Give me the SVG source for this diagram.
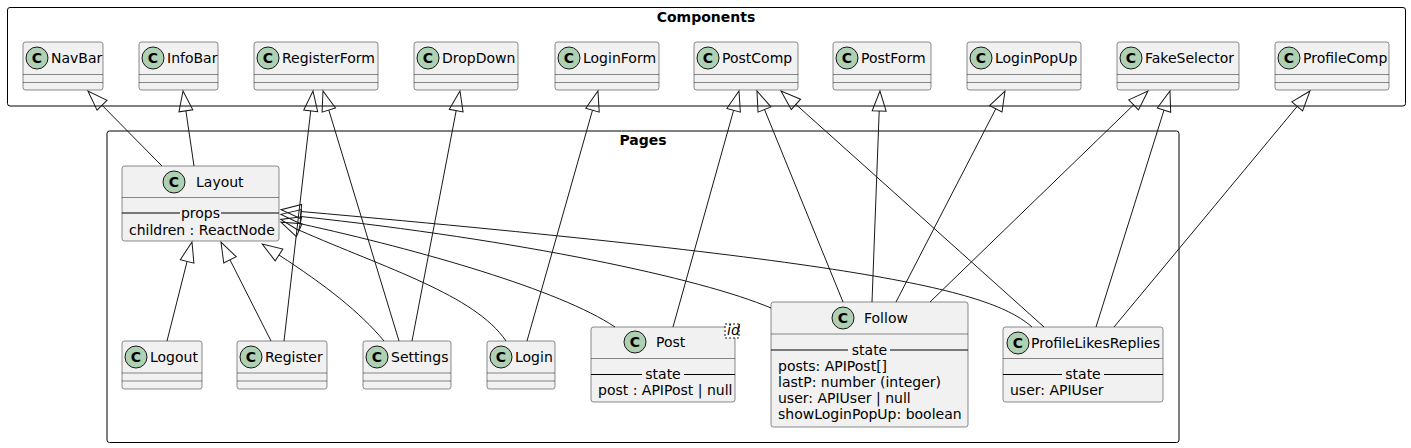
<svg xmlns="http://www.w3.org/2000/svg" width="1411" height="448" viewBox="0 0 1411 448">
<defs>
<style>
text{font-family:"DejaVu Sans","Liberation Sans",sans-serif;font-size:14px;fill:#000}
.title{font-weight:bold}
.box{fill:#F1F1F1;stroke:#181818;stroke-width:0.5}
.sec{stroke:#181818;stroke-width:0.5}
.sep{stroke:#000;stroke-width:1}
.frame{fill:none;stroke:#000;stroke-width:1}
.circ{fill:#ADD1B2;stroke:#181818;stroke-width:1}
.cl{font-weight:bold;text-anchor:middle;font-size:14px}
.mid{text-anchor:middle}
.edge{fill:none;stroke:#181818;stroke-width:1;marker-end:url(#ext)}
</style>
<marker id="ext" markerUnits="userSpaceOnUse" markerWidth="22" markerHeight="16" refX="0" refY="7" orient="auto" overflow="visible">
<path d="M0,0 L20,7 L0,14 Z" fill="none" stroke="#181818" stroke-width="1"/>
</marker>
</defs>
<rect width="1411" height="448" fill="#FFFFFF"/>

<g id="Components">
<rect class="frame" x="7.5" y="7.5" width="1398" height="98.5" rx="2.5"/>
<text class="title mid" x="706" y="22">Components</text>
</g>
<g id="Pages">
<rect class="frame" x="107" y="131" width="1072" height="311.5" rx="2.5"/>
<text class="title mid" x="643" y="145">Pages</text>
</g>

<g id="NavBar"><rect class="box" x="23" y="42" width="80" height="48" rx="2.5"/><line class="sec" x1="23" y1="74.5" x2="103" y2="74.5"/><line class="sec" x1="23" y1="82.5" x2="103" y2="82.5"/><circle class="circ" cx="37" cy="58" r="11"/><text class="cl" x="37" y="63">C</text><text x="51" y="63">NavBar</text></g>
<g id="InfoBar"><rect class="box" x="139" y="42" width="79" height="48" rx="2.5"/><line class="sec" x1="139" y1="74.5" x2="218" y2="74.5"/><line class="sec" x1="139" y1="82.5" x2="218" y2="82.5"/><circle class="circ" cx="153" cy="58" r="11"/><text class="cl" x="153" y="63">C</text><text x="167" y="63">InfoBar</text></g>
<g id="RegisterForm"><rect class="box" x="254" y="42" width="124" height="48" rx="2.5"/><line class="sec" x1="254" y1="74.5" x2="378" y2="74.5"/><line class="sec" x1="254" y1="82.5" x2="378" y2="82.5"/><circle class="circ" cx="268" cy="58" r="11"/><text class="cl" x="268" y="63">C</text><text x="282" y="63">RegisterForm</text></g>
<g id="DropDown"><rect class="box" x="414" y="42" width="104" height="48" rx="2.5"/><line class="sec" x1="414" y1="74.5" x2="518" y2="74.5"/><line class="sec" x1="414" y1="82.5" x2="518" y2="82.5"/><circle class="circ" cx="428" cy="58" r="11"/><text class="cl" x="428" y="63">C</text><text x="442" y="63">DropDown</text></g>
<g id="LoginForm"><rect class="box" x="555" y="42" width="104" height="48" rx="2.5"/><line class="sec" x1="555" y1="74.5" x2="659" y2="74.5"/><line class="sec" x1="555" y1="82.5" x2="659" y2="82.5"/><circle class="circ" cx="569" cy="58" r="11"/><text class="cl" x="569" y="63">C</text><text x="583" y="63">LoginForm</text></g>
<g id="PostComp"><rect class="box" x="694" y="42" width="104" height="48" rx="2.5"/><line class="sec" x1="694" y1="74.5" x2="798" y2="74.5"/><line class="sec" x1="694" y1="82.5" x2="798" y2="82.5"/><circle class="circ" cx="708" cy="58" r="11"/><text class="cl" x="708" y="63">C</text><text x="722" y="63">PostComp</text></g>
<g id="PostForm"><rect class="box" x="833" y="42" width="98" height="48" rx="2.5"/><line class="sec" x1="833" y1="74.5" x2="931" y2="74.5"/><line class="sec" x1="833" y1="82.5" x2="931" y2="82.5"/><circle class="circ" cx="847" cy="58" r="11"/><text class="cl" x="847" y="63">C</text><text x="861" y="63">PostForm</text></g>
<g id="LoginPopUp"><rect class="box" x="967" y="42" width="114" height="48" rx="2.5"/><line class="sec" x1="967" y1="74.5" x2="1081" y2="74.5"/><line class="sec" x1="967" y1="82.5" x2="1081" y2="82.5"/><circle class="circ" cx="981" cy="58" r="11"/><text class="cl" x="981" y="63">C</text><text x="995" y="63">LoginPopUp</text></g>
<g id="FakeSelector"><rect class="box" x="1117" y="42" width="122" height="48" rx="2.5"/><line class="sec" x1="1117" y1="74.5" x2="1239" y2="74.5"/><line class="sec" x1="1117" y1="82.5" x2="1239" y2="82.5"/><circle class="circ" cx="1131" cy="58" r="11"/><text class="cl" x="1131" y="63">C</text><text x="1145" y="63">FakeSelector</text></g>
<g id="ProfileComp"><rect class="box" x="1275" y="42" width="114" height="48" rx="2.5"/><line class="sec" x1="1275" y1="74.5" x2="1389" y2="74.5"/><line class="sec" x1="1275" y1="82.5" x2="1389" y2="82.5"/><circle class="circ" cx="1289" cy="58" r="11"/><text class="cl" x="1289" y="63">C</text><text x="1303" y="63">ProfileComp</text></g>

<g id="Layout"><rect class="box" x="122" y="166" width="157" height="75" rx="2.5"/><line class="sec" x1="122" y1="197.5" x2="279" y2="197.5"/><line class="sep" x1="122" y1="213" x2="180" y2="213"/><line class="sep" x1="221" y1="213" x2="279" y2="213"/><circle class="circ" cx="174" cy="182" r="11"/><text class="cl" x="174" y="187">C</text><text x="196" y="187">Layout</text><text class="mid" x="200.5" y="217.5">props</text><text x="129" y="234.5">children : ReactNode</text></g>

<g id="Logout"><rect class="box" x="122" y="341" width="80" height="48" rx="2.5"/><line class="sec" x1="122" y1="373" x2="202" y2="373"/><line class="sec" x1="122" y1="381" x2="202" y2="381"/><circle class="circ" cx="136" cy="357" r="11"/><text class="cl" x="136" y="362">C</text><text x="150" y="362">Logout</text></g>
<g id="Register"><rect class="box" x="237" y="341" width="90" height="48" rx="2.5"/><line class="sec" x1="237" y1="373" x2="327" y2="373"/><line class="sec" x1="237" y1="381" x2="327" y2="381"/><circle class="circ" cx="251" cy="357" r="11"/><text class="cl" x="251" y="362">C</text><text x="265" y="362">Register</text></g>
<g id="Settings"><rect class="box" x="363" y="341" width="88" height="48" rx="2.5"/><line class="sec" x1="363" y1="373" x2="451" y2="373"/><line class="sec" x1="363" y1="381" x2="451" y2="381"/><circle class="circ" cx="377" cy="357" r="11"/><text class="cl" x="377" y="362">C</text><text x="391" y="362">Settings</text></g>
<g id="Login"><rect class="box" x="487" y="341" width="68" height="48" rx="2.5"/><line class="sec" x1="487" y1="373" x2="555" y2="373"/><line class="sec" x1="487" y1="381" x2="555" y2="381"/><circle class="circ" cx="501" cy="357" r="11"/><text class="cl" x="501" y="362">C</text><text x="515" y="362">Login</text></g>

<g id="Post"><rect class="box" x="591" y="327" width="144" height="75" rx="2.5"/><line class="sec" x1="591" y1="358.5" x2="735" y2="358.5"/><line class="sep" x1="591" y1="374.5" x2="642" y2="374.5"/><line class="sep" x1="684" y1="374.5" x2="735" y2="374.5"/><circle class="circ" cx="635" cy="342" r="11"/><text class="cl" x="635" y="347">C</text><text x="656" y="347">Post</text><text class="mid" x="663" y="379">state</text><text x="598" y="395">post : APIPost | null</text><rect x="725" y="324" width="14" height="14" fill="#FFFFFF" stroke="#181818" stroke-width="1" stroke-dasharray="2,2"/><text x="727" y="335" font-size="12" font-style="italic">id</text></g>

<g id="Follow"><rect class="box" x="771" y="302" width="197" height="125" rx="2.5"/><line class="sec" x1="771" y1="334" x2="968" y2="334"/><line class="sep" x1="771" y1="350" x2="848" y2="350"/><line class="sep" x1="890" y1="350" x2="968" y2="350"/><circle class="circ" cx="843" cy="318" r="11"/><text class="cl" x="843" y="323">C</text><text x="864" y="323">Follow</text><text class="mid" x="869.5" y="355">state</text><text x="778" y="370.5">posts: APIPost[]</text><text x="778" y="387">lastP: number (integer)</text><text x="778" y="403">user: APIUser | null</text><text x="778" y="419">showLoginPopUp: boolean</text></g>

<g id="ProfileLikesReplies"><rect class="box" x="1003" y="327" width="160" height="75" rx="2.5"/><line class="sec" x1="1003" y1="358.5" x2="1163" y2="358.5"/><line class="sep" x1="1003" y1="374.5" x2="1062" y2="374.5"/><line class="sep" x1="1104" y1="374.5" x2="1163" y2="374.5"/><circle class="circ" cx="1018" cy="343" r="11"/><text class="cl" x="1018" y="348">C</text><text x="1031" y="348">ProfileLikesReplies</text><text class="mid" x="1083" y="379">state</text><text x="1010" y="395">user: APIUser</text></g>

<g id="connectors">
<path class="edge" d="M162,166 L102,105.2"/>
<path class="edge" d="M194,166 L185.9,110.8"/>
<path class="edge" d="M284,341 L310.7,110.9"/>
<path class="edge" d="M399,341 L328.8,110.1"/>
<path class="edge" d="M412,341 L456.2,110.6"/>
<path class="edge" d="M527,341 L592.5,110.2"/>
<path class="edge" d="M673,327 L733.6,110.3"/>
<path class="edge" d="M843,302 L764.5,109.5"/>
<path class="edge" d="M1044,327 L795.9,104.4"/>
<path class="edge" d="M872,302 L879.2,111"/>
<path class="edge" d="M896,302 L995.8,108.8"/>
<path class="edge" d="M930,302 L1133.6,104.9"/>
<path class="edge" d="M1096,327 L1164,110.1"/>
<path class="edge" d="M1114,327 L1297.2,106.4"/>
<path class="edge" d="M167,341 L187.1,261.4"/>
<path class="edge" d="M271,341 L230,259.9"/>
<path class="edge" d="M384,341 C360,312 325,285 279,255"/>
<path class="edge" d="M506,341 C475,295 385,268 299.2,230.2"/>
<path class="edge" d="M615,327 C560,290 420,250 300.2,223.7"/>
<path class="edge" d="M771,308 C700,278 520,240 300.8,216.5"/>
<path class="edge" d="M1032,327 C990,290 870,262 301,211.5"/>
</g>
</svg>
